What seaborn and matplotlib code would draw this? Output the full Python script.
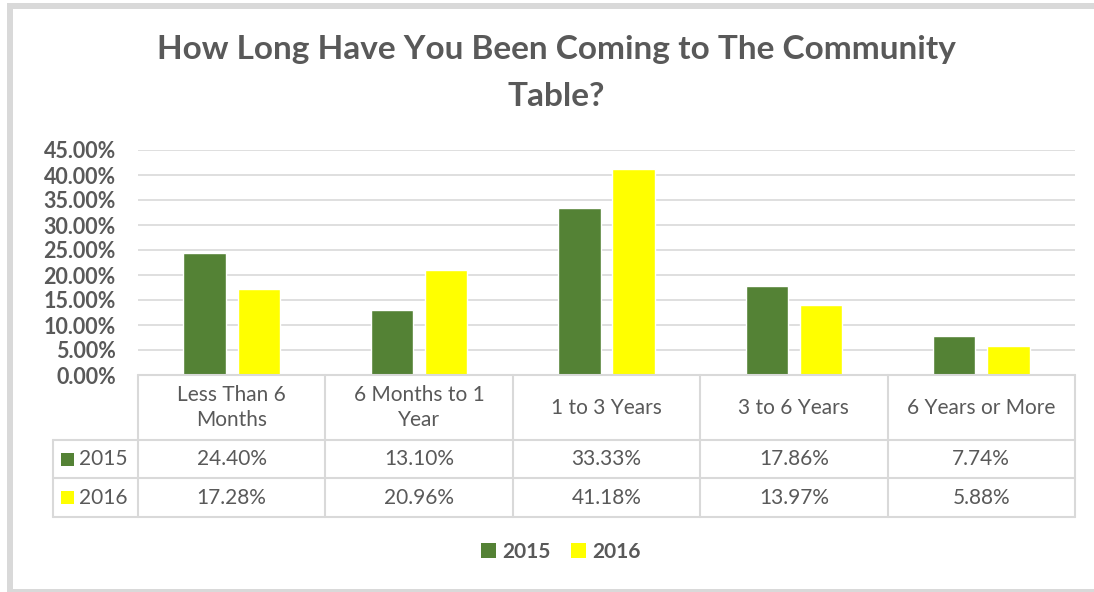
import matplotlib
matplotlib.use("Agg")
import matplotlib.pyplot as plt
import seaborn as sns
import pandas as pd
from matplotlib.lines import Line2D
from matplotlib.patches import Rectangle

# chart data
categories = ["Less Than 6 Months", "6 Months to 1 Year", "1 to 3 Years", "3 to 6 Years", "6 Years or More"]
cat_labels = ["Less Than 6\nMonths", "6 Months to 1\nYear", "1 to 3 Years", "3 to 6 Years", "6 Years or More"]
years = ["2015", "2016"]
vals_2015 = [24.40, 13.10, 33.33, 17.86, 7.74]
vals_2016 = [17.28, 20.96, 41.18, 13.97, 5.88]
colors = {"2015": "#548235", "2016": "#FFFF00"}

df = pd.DataFrame({
    "category": categories * 2,
    "year": ["2015"] * 5 + ["2016"] * 5,
    "value": vals_2015 + vals_2016,
})

sns.set_style("white")
plt.rcParams["font.family"] = ["Lato", "DejaVu Sans"]
txt = "#595959"
line_c = "#D9D9D9"

W, H = 1094, 592
fig = plt.figure(figsize=(W / 100, H / 100), dpi=100)

def fx(px):
    return px / W

def fy(py):
    return 1 - py / H

def box(x0, y0, x1, y1, color):
    # rectangle given in pixel coords (top-left origin)
    fig.patches.append(Rectangle((fx(x0), fy(y1)), fx(x1 - x0), (y1 - y0) / H,
                                 transform=fig.transFigure, facecolor=color, edgecolor="none"))

# outer frame (top, left, bottom bands)
box(7, 3, W, 9, line_c)
box(7, 3, 13, H, line_c)
box(13, 589, W, H, line_c)

left, right, top, bottom = 138, 1075, 150, 375
ax = fig.add_axes([fx(left), fy(bottom), fx(right - left), (bottom - top) / H])
sns.barplot(data=df, x="category", y="value", hue="year", order=categories, hue_order=years,
            palette=colors, width=0.58, gap=0.22, ax=ax, legend=False, saturation=1)
ax.set_ylim(0, 45)
ax.set_xlim(-0.5, 4.5)
ax.set_yticks(range(0, 46, 5))
ax.set_yticklabels([f"{t:.2f}%" for t in range(0, 46, 5)], fontsize=15.5, fontweight="bold", color=txt)
ax.set_xticks([])
ax.set_xlabel("")
ax.set_ylabel("")
ax.grid(axis="y", color=line_c, linewidth=1.2)
ax.set_axisbelow(True)
for s in ax.spines.values():
    s.set_visible(False)
ax.tick_params(axis="y", length=0, pad=16)

# title
fig.text(fx(556), fy(50), "How Long Have You Been Coming to The Community", ha="center", va="center",
         fontsize=24, fontweight="bold", color=txt)
fig.text(fx(556), fy(97), "Table?", ha="center", va="center",
         fontsize=24, fontweight="bold", color=txt)

# data table
col_x = [left + (right - left) * i / 5 for i in range(6)]
row_y = [bottom, 440, 478, 517]
label_left = 53

def hline(x0, x1, y):
    fig.add_artist(Line2D([fx(x0), fx(x1)], [fy(y), fy(y)], color=line_c, linewidth=1.5))

def vline(x, y0, y1):
    fig.add_artist(Line2D([fx(x), fx(x)], [fy(y0), fy(y1)], color=line_c, linewidth=1.5))

hline(left, right, row_y[0])
for y in row_y[1:]:
    hline(label_left, right, y)
for x in col_x:
    vline(x, row_y[0], row_y[3])
vline(label_left, row_y[1], row_y[3])

for i, lab in enumerate(cat_labels):
    cx = (col_x[i] + col_x[i + 1]) / 2
    fig.text(fx(cx), fy((row_y[0] + row_y[1]) / 2), lab, ha="center", va="center",
             fontsize=15, color=txt, linespacing=1.35)

for r, (yr, vals) in enumerate(zip(years, [vals_2015, vals_2016])):
    cy = (row_y[r + 1] + row_y[r + 2]) / 2
    box(61, cy - 6.5, 74, cy + 6.5, colors[yr])
    fig.text(fx(79), fy(cy), yr, ha="left", va="center", fontsize=15, color=txt)
    for i, v in enumerate(vals):
        cx = (col_x[i] + col_x[i + 1]) / 2
        fig.text(fx(cx), fy(cy), f"{v:.2f}%", ha="center", va="center", fontsize=15, color=txt)

# legend
handles = [Rectangle((0, 0), 1, 1, facecolor=colors[y], edgecolor="none") for y in years]
leg = fig.legend(handles, years, loc="center", bbox_to_anchor=(fx(561), fy(552)), ncol=2,
                 frameon=False, handlelength=0.7, handleheight=0.7, handletextpad=0.3,
                 columnspacing=1.0, prop={"weight": "bold", "size": 15})
for t in leg.get_texts():
    t.set_color(txt)

fig.savefig("out.png", dpi=100)
